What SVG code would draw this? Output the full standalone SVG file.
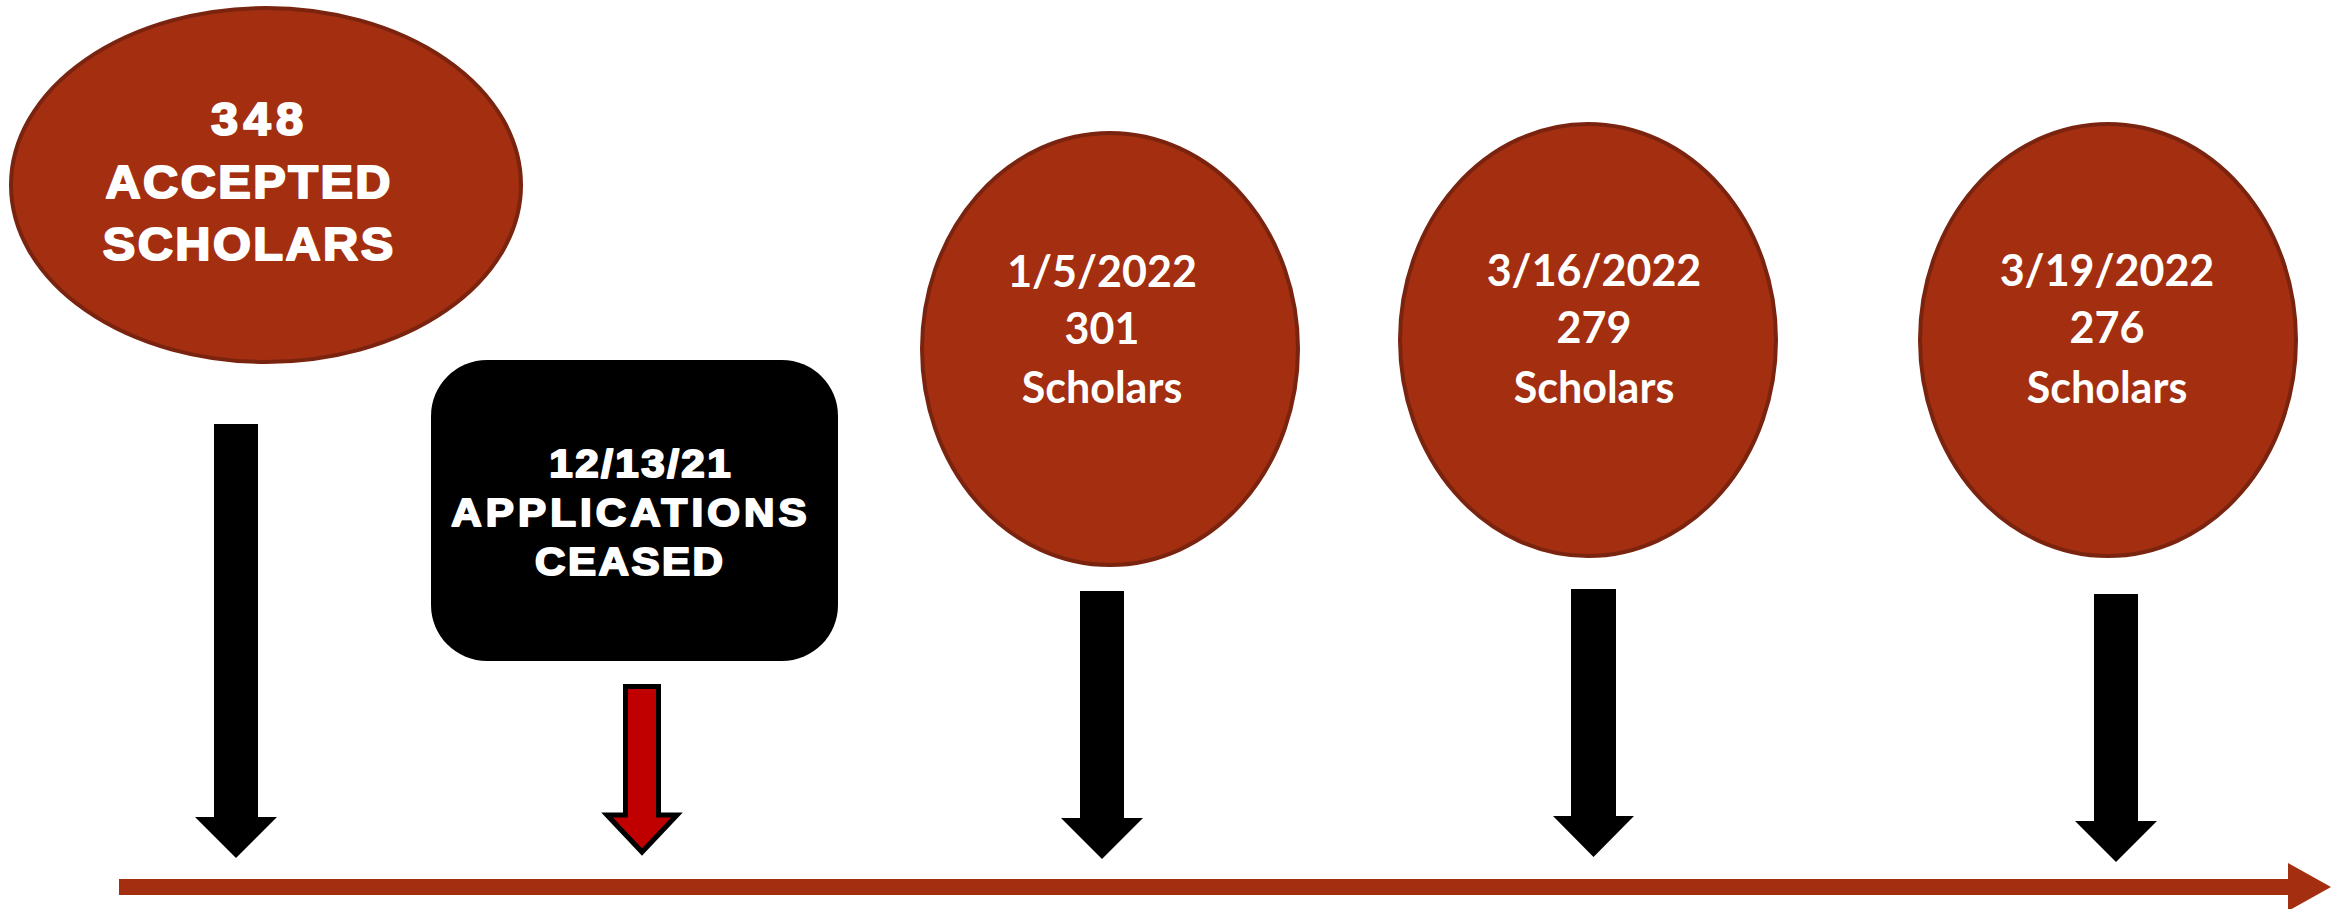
<svg xmlns="http://www.w3.org/2000/svg" width="2331" height="909" viewBox="0 0 2331 909">
<style>
.node-ell{fill:#A32E10;stroke:#7A2410;stroke-width:4}
.heavy{font-family:"Liberation Sans",Arial,sans-serif;font-weight:bold;fill:#FFFFFF;stroke:#FFFFFF;stroke-width:2;stroke-linejoin:round;text-anchor:middle}
.cal{font-family:Lato,"Open Sans",sans-serif;font-weight:bold;fill:#FFFFFF;font-size:43px;text-anchor:middle}
.blk{fill:#000000}
</style>
<rect width="2331" height="909" fill="#FFFFFF"/>
<g id="connectors">
  <path id="axis" d="M119,879 H2288 V863 L2331,887 L2288,911 V895 H119 Z" fill="#A32E10"/>
  <path id="arrow-348" class="blk" d="M214,424 H258 V817 H277 L236,858 L195,817 H214 Z"/>
  <path id="arrow-ceased" d="M625.5,686.5 H658.5 V815 H677 L642,852 L607,815 H625.5 Z" fill="#C00000" stroke="#000000" stroke-width="5" stroke-linejoin="miter"/>
  <path id="arrow-301" class="blk" d="M1080,591 H1124 V818 H1143 L1102,859 L1061,818 H1080 Z"/>
  <path id="arrow-279" class="blk" d="M1571,589 H1616 V816 H1634 L1593.5,857 L1553,816 H1571 Z"/>
  <path id="arrow-276" class="blk" d="M2094,594 H2138 V821 H2157 L2116,862 L2075,821 H2094 Z"/>
</g>
<g id="node-accepted">
  <ellipse class="node-ell" cx="266" cy="185" rx="255" ry="177"/>
  <text class="heavy" font-size="46" transform="translate(257,135) scale(1.06,1)" x="0" y="0" textLength="87">348</text>
  <text class="heavy" font-size="46" transform="translate(248,198) scale(1.06,1)" x="0" y="0" textLength="269">ACCEPTED</text>
  <text class="heavy" font-size="46" transform="translate(248,260) scale(1.06,1)" x="0" y="0" textLength="274">SCHOLARS</text>
</g>
<g id="node-ceased">
  <rect x="431" y="360" width="407" height="301" rx="56" ry="56" fill="#000000"/>
  <text class="heavy" font-size="39" transform="translate(640,477) scale(1.08,1)" x="0" y="0" textLength="168">12/13/21</text>
  <text class="heavy" font-size="39" transform="translate(629,526) scale(1.08,1)" x="0" y="0" textLength="329">APPLICATIONS</text>
  <text class="heavy" font-size="39" transform="translate(629,575) scale(1.08,1)" x="0" y="0" textLength="174">CEASED</text>
</g>
<g id="node-301">
  <ellipse class="node-ell" cx="1110" cy="349" rx="188" ry="216"/>
  <text class="cal" x="1102" y="287">1/5/2022</text>
  <text class="cal" x="1102" y="344">301</text>
  <text class="cal" x="1102" y="403">Scholars</text>
</g>
<g id="node-279">
  <ellipse class="node-ell" cx="1588" cy="340" rx="188" ry="216"/>
  <text class="cal" x="1594" y="286">3/16/2022</text>
  <text class="cal" x="1594" y="343">279</text>
  <text class="cal" x="1594" y="403">Scholars</text>
</g>
<g id="node-276">
  <ellipse class="node-ell" cx="2108" cy="340" rx="188" ry="216"/>
  <text class="cal" x="2107" y="286">3/19/2022</text>
  <text class="cal" x="2107" y="343">276</text>
  <text class="cal" x="2107" y="403">Scholars</text>
</g>
</svg>
